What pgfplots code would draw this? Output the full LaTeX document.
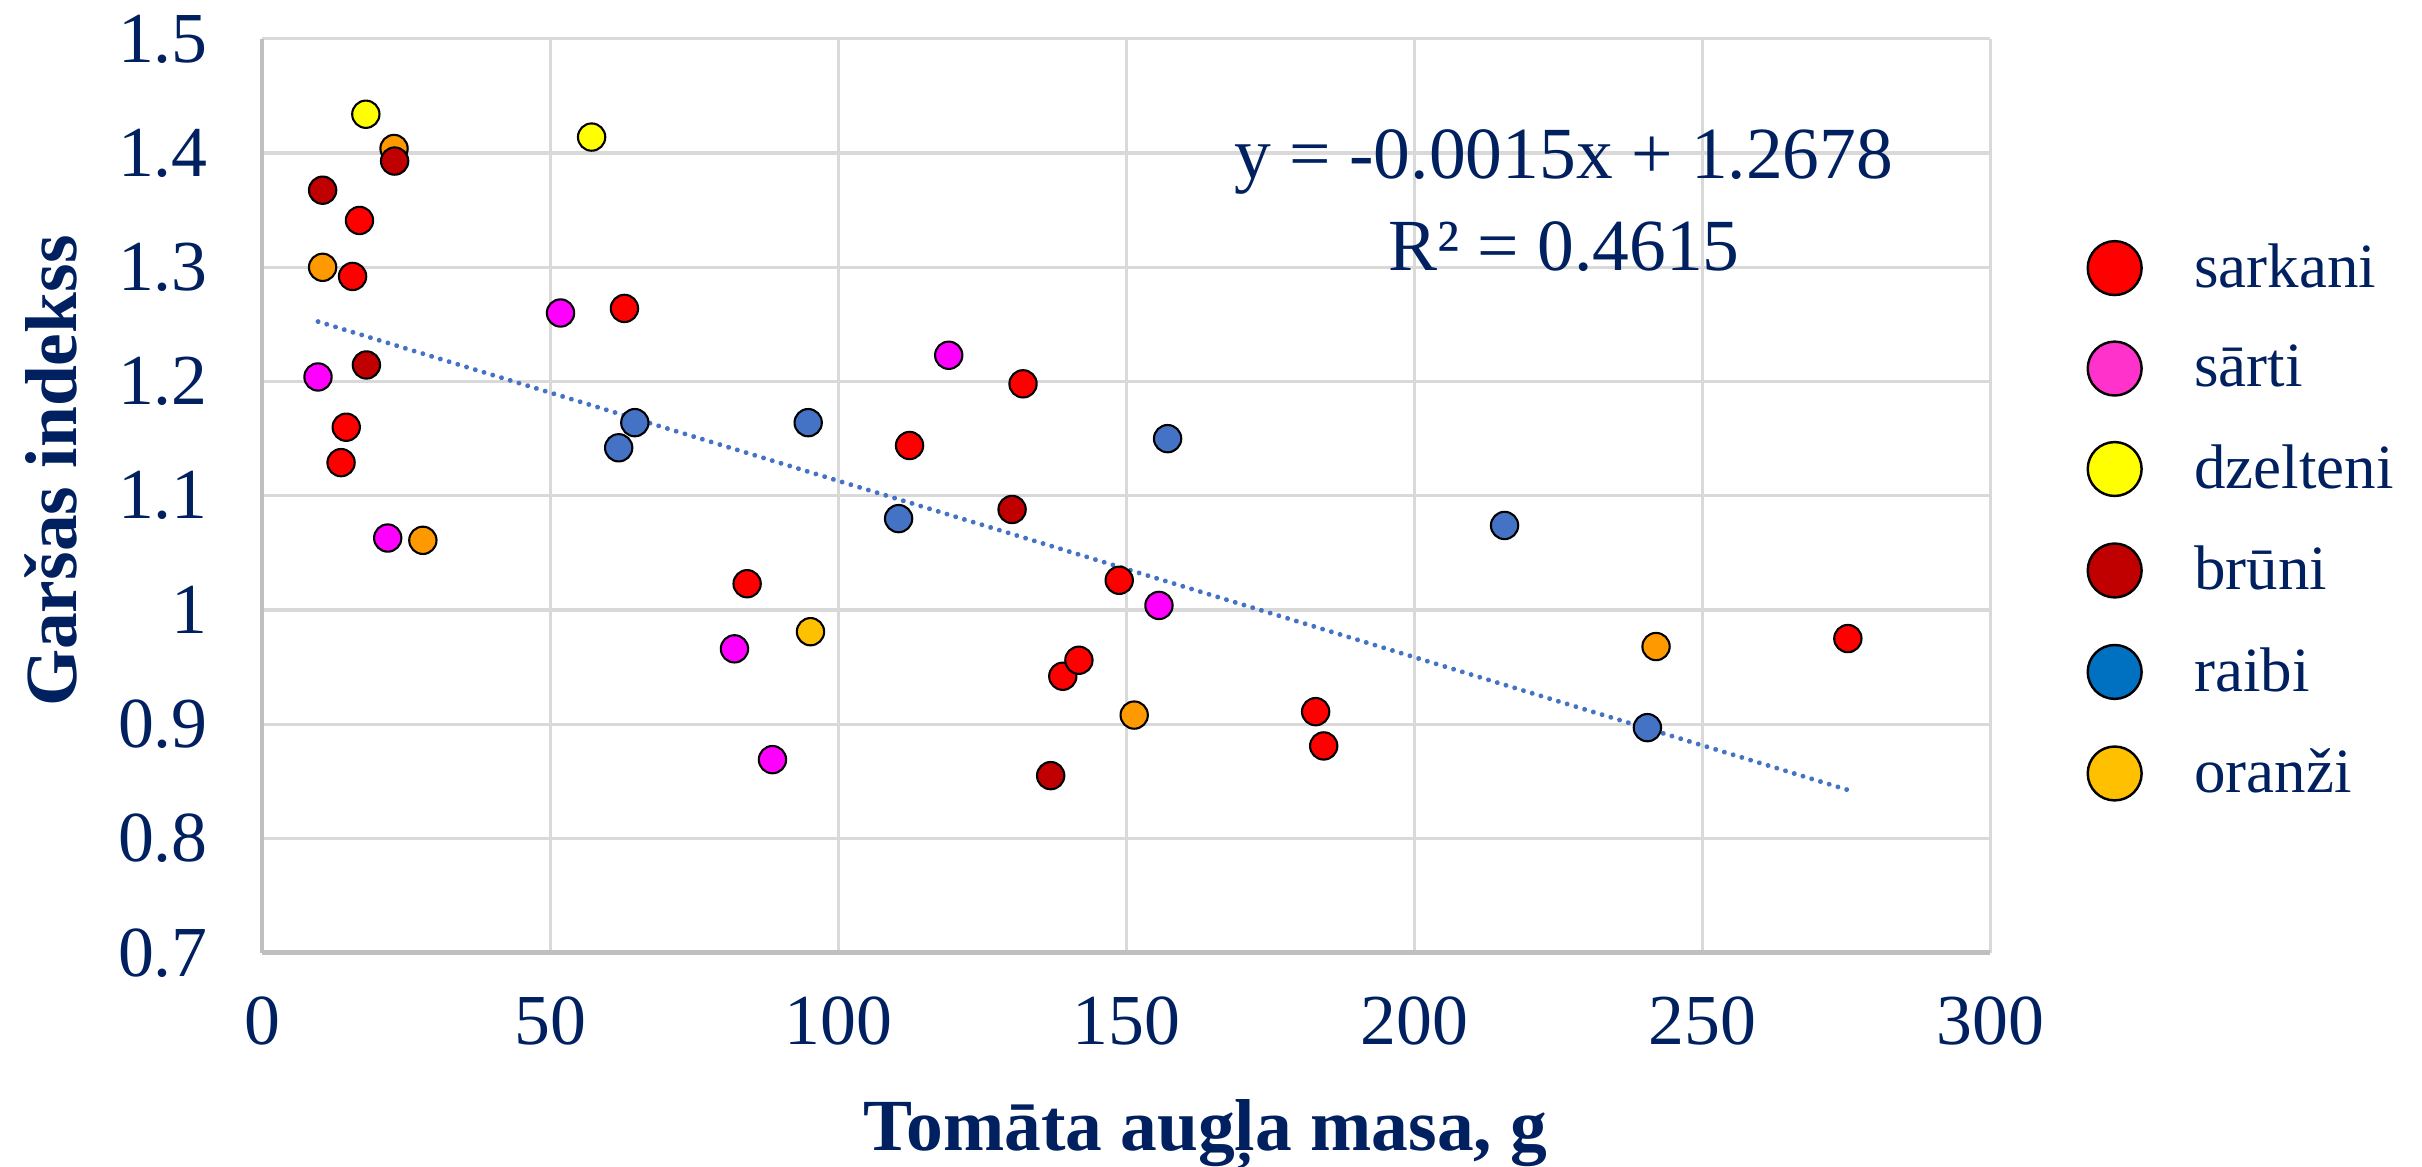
\documentclass[border=0pt]{standalone}
\usepackage{fontspec}
\setmainfont{Liberation Serif}
\usepackage{pgfplots}
\pgfplotsset{compat=1.18}

\definecolor{navy}{HTML}{002060}
\definecolor{gridgray}{HTML}{D9D9D9}
\definecolor{axisgray}{HTML}{BFBFBF}
\definecolor{cRed}{HTML}{FF0000}
\definecolor{cPink}{HTML}{FF00FF}
\definecolor{cYellow}{HTML}{FFFF00}
\definecolor{cBrown}{HTML}{C00000}
\definecolor{cBlue}{HTML}{4472C4}
\definecolor{cOrange}{HTML}{FF9900}
\definecolor{cGold}{HTML}{FFC000}
\definecolor{lPink}{HTML}{FF33CC}
\definecolor{lBlue}{HTML}{0070C0}

\pgfplotsset{
  dot/.style={only marks, mark=*, mark size=3.9pt,
    mark options={fill=#1, draw=black, line width=0.6pt}, forget plot},
  legdot/.style={only marks, mark=*, mark size=7.7pt,
    mark options={fill=#1, draw=black, line width=0.7pt}},
}

\begin{document}
\begin{tikzpicture}
\begin{axis}[
    at={(0,0)}, anchor=south west,
    scale only axis,
    width=493.7pt, height=261.1pt,
    xmin=0, xmax=300,
    ymin=0.7, ymax=1.5,
    xtick={0,50,100,150,200,250,300},
    ytick={0.7,0.8,0.9,1,1.1,1.2,1.3,1.4,1.5},
    grid=major,
    grid style={line width=0.9pt, color=gridgray},
    axis x line*=bottom, axis y line*=left,
    axis line style={line width=1.3pt, color=axisgray, -},
    major tick length=0pt,
    tick label style={font=\fontsize{20.5}{24}\selectfont, text=navy},
    /pgf/number format/assume math mode=true,
    yticklabel style={xshift=-12pt},
    xticklabel style={yshift=-9pt},
    xlabel={Tomāta augļa masa, g},
    ylabel={Garšas indekss},
    label style={font=\fontsize{21}{25}\bfseries, text=navy},
    xlabel style={at={(axis description cs:0.546,-0.199)}, anchor=center},
    ylabel style={at={(axis description cs:-0.122,0.527)}, anchor=center},
    legend style={at={(axis description cs:1.05,0.792)}, anchor=north west,
      draw=none, fill=none, font=\fontsize{18}{21}\selectfont, text=navy,
      row sep=11pt,
      /tikz/every odd column/.append style={column sep=13pt}},
    legend cell align=left,
]

% sarkani
\addplot[dot=cRed] coordinates {
  (16.9,1.341) (15.7,1.292) (62.9,1.264) (14.6,1.160) (13.7,1.129)
  (132.1,1.198) (112.4,1.144) (84.2,1.023) (148.8,1.026) (139.0,0.942)
  (141.8,0.956) (182.9,0.911) (184.3,0.881) (275.3,0.975)
};
% sarti
\addplot[dot=cPink] coordinates {
  (51.8,1.260) (9.7,1.204) (21.8,1.063) (119.2,1.223) (155.7,1.004)
  (82.0,0.966) (88.6,0.869)
};
% dzelteni
\addplot[dot=cYellow] coordinates {(18.0,1.434) (57.2,1.414)};
% oranzi
\addplot[dot=cOrange] coordinates {
  (22.9,1.404) (10.5,1.300) (27.9,1.061) (151.4,0.908) (242.0,0.968)
};
\addplot[dot=cGold] coordinates {(95.2,0.981)};
% bruni
\addplot[dot=cBrown] coordinates {
  (10.5,1.3675) (23.0,1.393) (18.1,1.2145) (130.2,1.088) (136.9,0.855)
};
% raibi
\addplot[dot=cBlue] coordinates {
  (61.9,1.142) (64.7,1.164) (94.8,1.164) (157.2,1.150) (110.5,1.080)
  (215.7,1.074) (240.5,0.897)
};

% linear trend
\addplot[color=cBlue, line width=1.4pt, line cap=round,
  dash pattern=on 0.01pt off 2.6pt, forget plot]
  coordinates {(9.7,1.2525) (275.3,0.8425)};

\node[font=\fontsize{21}{25}\selectfont, text=navy] at (axis cs:226,1.392) {y = -0.0015x + 1.2678};
\node[font=\fontsize{21}{25}\selectfont, text=navy] at (axis cs:226,1.318) {R² = 0.4615};

\addlegendimage{legdot=cRed}\addlegendentry{sarkani}
\addlegendimage{legdot=lPink}\addlegendentry{sārti}
\addlegendimage{legdot=cYellow}\addlegendentry{dzelteni}
\addlegendimage{legdot=cBrown}\addlegendentry{brūni}
\addlegendimage{legdot=lBlue}\addlegendentry{raibi}
\addlegendimage{legdot=cGold}\addlegendentry{oranži}
\end{axis}
\pgfresetboundingbox
\path[use as bounding box] (-74.9pt,-61.1pt) rectangle (617.1pt,272.2pt);
\end{tikzpicture}
\end{document}
